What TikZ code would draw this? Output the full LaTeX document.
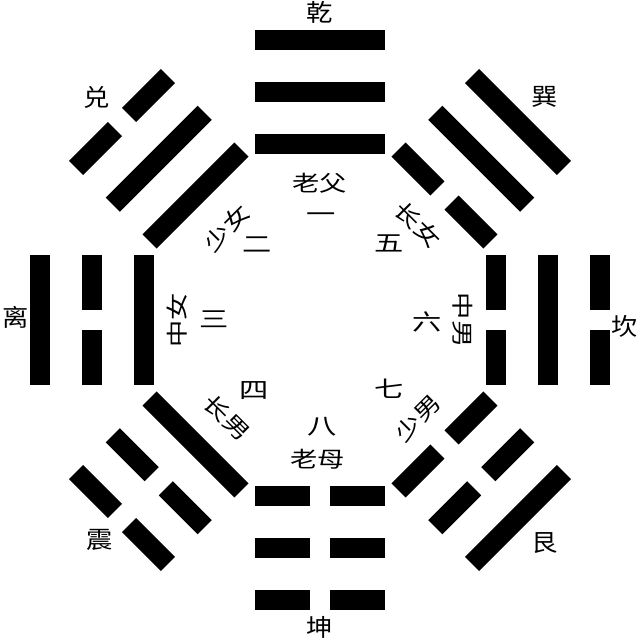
\documentclass[tikz,border=0pt]{standalone}
\usepackage{fontspec}
\newfontfamily\cjk{Noto Sans CJK SC}
\begin{document}
\begin{tikzpicture}[x=0.025cm, y=0.025cm,
    gua/.style={font=\cjk\fontsize{17}{20}\selectfont, xscale=1.1},
    ren/.style={font=\cjk\fontsize{15.5}{18}\selectfont, xscale=1.25},
    shu/.style={font=\cjk\fontsize{16}{18}\selectfont, xscale=1.3}]
\useasboundingbox (-320,-320) rectangle (320,320);
% eight trigrams, lines from the centre outwards (1 = whole, 0 = broken)
\foreach \ang/\ya/\yb/\yc in {90/1/1/1, 45/0/1/1, 0/0/1/0, -45/0/0/1,
                              -90/0/0/0, -135/1/0/0, 180/1/0/1, 135/1/1/0} {
  \begin{scope}[rotate=\ang-90]
    \foreach \rad/\t in {176/\ya, 228/\yb, 280/\yc} {
      \ifnum\t=1
        \fill (-65,\rad-10) rectangle (65,\rad+10);
      \else
        \fill (-65,\rad-10) rectangle (-10,\rad+10);
        \fill (10,\rad-10) rectangle (65,\rad+10);
      \fi
    }
  \end{scope}
}
% names of the trigrams
\node[gua] (qian) at (0,308) {乾};
\node[gua] (xun) at (225,223) {巽};
\node[gua] (kan) at (305,-6) {坎};
\node[gua] (gen) at (225,-223) {艮};
\node[gua] (kun) at (0,-307) {坤};
\node[gua] (zhen) at (-220,-220) {震};
\node[gua] (li) at (-304,3) {离};
\node[gua] (dui) at (-223,223) {兑};
% family
\node[ren] (laofu) at (0,137) {老父};
\node[rotate=-45, ren] (changnv) at (98,95) {长女};
\node[rotate=-90, ren] (zhongnan) at (143,0) {中男};
\node[rotate=45, ren] (shaonan) at (98,-98) {少男};
\node[ren] (laomu) at (-2,-139) {老母};
\node[rotate=-45, ren] (changnan) at (-93,-98) {长男};
\node[rotate=90, ren] (zhongnv) at (-143,0) {中女};
\node[rotate=45, ren] (shaonv) at (-93,92) {少女};
% numbers
\node[shu] (yi) at (1,102) {一};
\node[shu] (er) at (-63,75) {二};
\node[shu] (san) at (-106,1) {三};
\node[shu] (si) at (-66,-71) {四};
\node[shu] (wu) at (69,77) {五};
\node[shu] (liu) at (107,-2) {六};
\node[shu] (qi) at (69,-69) {七};
\node[shu] (ba) at (2,-107) {八};
\end{tikzpicture}
\end{document}
